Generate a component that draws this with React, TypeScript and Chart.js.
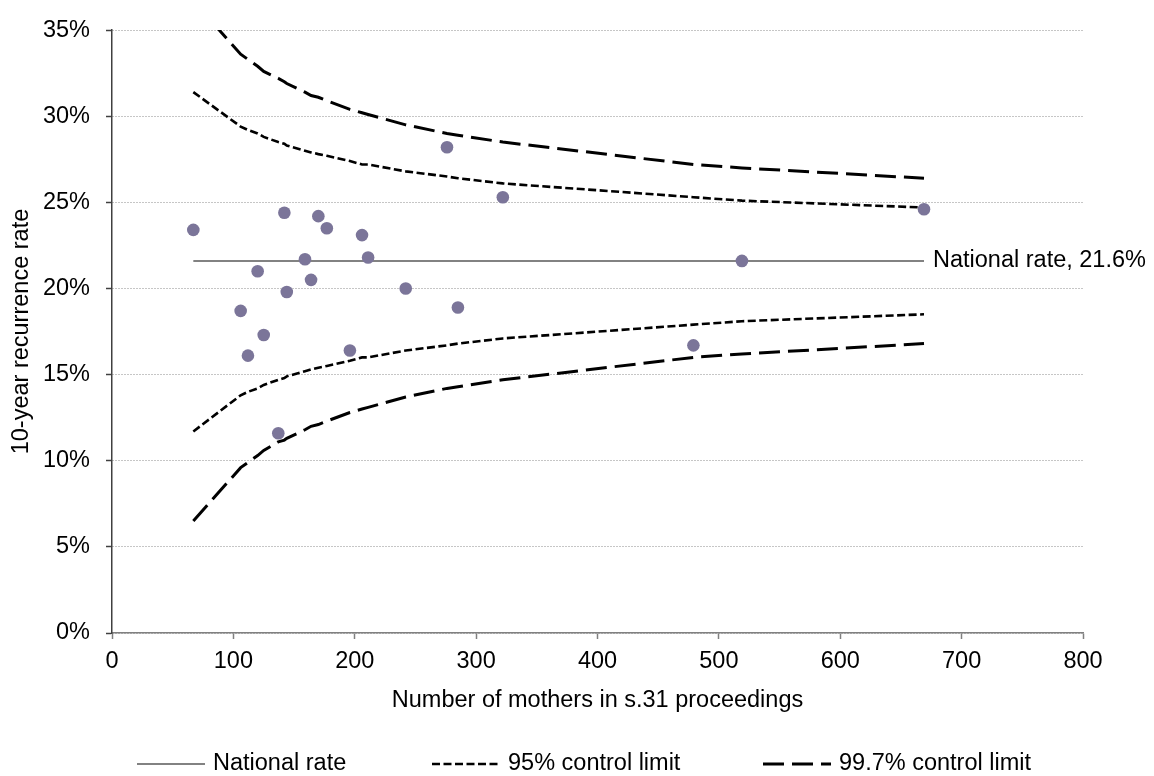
import { useEffect, useRef } from "react";
import { Chart, registerables } from "chart.js";

Chart.register(...registerables);

const FONT_FAMILY = "'Liberation Sans', Arial, Helvetica, sans-serif";
const FONT_SIZE = 23.5;
const TEXT_COLOR = "#000000";

// Authorities: number of mothers in s.31 proceedings and their 10-year recurrence rate (%)
const mothersCount = [67, 106, 112, 120, 125, 137, 142, 144, 159, 164, 170, 177, 196, 206, 211, 242, 276, 285, 322, 479, 519, 669];
const recurrenceRate = [23.4, 18.7, 16.1, 21.0, 17.3, 11.6, 24.4, 19.8, 21.7, 20.5, 24.2, 23.5, 16.4, 23.1, 21.8, 20.0, 28.2, 18.9, 25.3, 16.7, 21.6, 24.6];

// Funnel control limits, read at each authority size
const limitSizes = [67, 106, 112, 120, 125, 137, 142, 144, 159, 164, 170, 177, 196, 206, 211, 242, 276, 285, 322, 479, 519, 669];
const upper95 = [31.4, 29.4, 29.2, 29.0, 28.8, 28.5, 28.4, 28.3, 28.0, 27.9, 27.8, 27.7, 27.4, 27.2, 27.2, 26.8, 26.5, 26.4, 26.1, 25.3, 25.1, 24.7];
const lower95 = [11.7, 13.8, 14.0, 14.2, 14.4, 14.7, 14.8, 14.9, 15.2, 15.3, 15.4, 15.5, 15.8, 16.0, 16.0, 16.4, 16.7, 16.8, 17.1, 17.9, 18.1, 18.5];
const upper997 = [36.7, 33.6, 33.3, 32.9, 32.6, 32.2, 32.0, 31.9, 31.4, 31.2, 31.1, 30.9, 30.4, 30.2, 30.1, 29.5, 29.0, 28.9, 28.5, 27.2, 27.0, 26.4];
const lower997 = [6.5, 9.6, 9.9, 10.3, 10.6, 11.1, 11.2, 11.3, 11.8, 12.0, 12.1, 12.3, 12.8, 13.0, 13.1, 13.7, 14.2, 14.3, 14.7, 16.0, 16.2, 16.8];

const nationalRate = 21.6;
const nationalRange = [67, 669];

const xTitle = "Number of mothers in s.31 proceedings";
const yTitle = "10-year recurrence rate";
const nationalLabel = `National rate, ${nationalRate}%`;

const NATIONAL_STYLE = { color: "#595959", width: 1.5, dash: [] as number[] };
const LIMIT95_STYLE = { color: "#000000", width: 2.6, dash: [8, 3.5] };
const LIMIT997_STYLE = { color: "#000000", width: 3, dash: [21, 8] };
const POINT_COLOR = "#7b7599";

const legendEntries = [
  { label: "National rate", style: NATIONAL_STYLE, x: 137 },
  { label: "95% control limit", style: LIMIT95_STYLE, x: 432 },
  { label: "99.7% control limit", style: LIMIT997_STYLE, x: 763 },
];

const toPoints = (xs: number[], ys: number[]) => xs.map((x, i) => ({ x, y: ys[i] }));

const font = `${FONT_SIZE}px ${FONT_FAMILY}`;

// Draws the axis titles, the national-rate label and the line key under the chart
const chartText = {
  id: "chartText",
  afterDraw(chart: any) {
    const { ctx, chartArea, scales } = chart;
    ctx.save();
    ctx.font = font;
    ctx.fillStyle = TEXT_COLOR;
    ctx.textBaseline = "middle";

    // national rate label at the end of its line
    ctx.textAlign = "left";
    ctx.fillText(
      nationalLabel,
      scales.x.getPixelForValue(nationalRange[1]) + 9,
      scales.y.getPixelForValue(nationalRate)
    );

    // x-axis title
    ctx.textAlign = "center";
    ctx.fillText(xTitle, (chartArea.left + chartArea.right) / 2, 701);

    // y-axis title
    ctx.save();
    ctx.translate(22, (chartArea.top + chartArea.bottom) / 2);
    ctx.rotate(-Math.PI / 2);
    ctx.fillText(yTitle, 0, 0);
    ctx.restore();

    // key
    const sampleW = 68;
    const textGap = 8;
    const keyY = 764;
    legendEntries.forEach((e) => {
      ctx.save();
      ctx.strokeStyle = e.style.color;
      ctx.lineWidth = e.style.width;
      ctx.setLineDash(e.style.dash);
      ctx.beginPath();
      ctx.moveTo(e.x, keyY);
      ctx.lineTo(e.x + sampleW, keyY);
      ctx.stroke();
      ctx.restore();
      ctx.textAlign = "left";
      ctx.fillText(e.label, e.x + sampleW + textGap, keyY);
    });

    ctx.restore();
  },
};

export default function App() {
  const canvasRef = useRef<HTMLCanvasElement | null>(null);

  useEffect(() => {
    if (!canvasRef.current) return;
    const lineDataset = (label: string, data: { x: number; y: number }[], style: typeof NATIONAL_STYLE) => ({
      label,
      data,
      showLine: true,
      fill: false,
      tension: 0,
      pointRadius: 0,
      pointHoverRadius: 0,
      borderColor: style.color,
      borderWidth: style.width,
      borderDash: style.dash,
      clip: 0,
      order: 1,
    });

    const chart = new Chart(canvasRef.current, {
      type: "scatter",
      data: {
        datasets: [
          {
            label: "Authorities",
            data: toPoints(mothersCount, recurrenceRate),
            pointRadius: 6.3,
            pointHoverRadius: 6.3,
            pointBackgroundColor: POINT_COLOR,
            pointBorderWidth: 0,
            backgroundColor: POINT_COLOR,
            borderWidth: 0,
            order: 0,
          },
          lineDataset("National rate", toPoints(nationalRange, [nationalRate, nationalRate]), NATIONAL_STYLE),
          lineDataset("95% upper", toPoints(limitSizes, upper95), LIMIT95_STYLE),
          lineDataset("95% lower", toPoints(limitSizes, lower95), LIMIT95_STYLE),
          lineDataset("99.7% upper", toPoints(limitSizes, upper997), LIMIT997_STYLE),
          lineDataset("99.7% lower", toPoints(limitSizes, lower997), LIMIT997_STYLE),
        ] as any,
      },
      options: {
        responsive: false,
        animation: false,
        devicePixelRatio: 1,
        layout: { padding: { top: 23, right: 71, bottom: 0, left: 0 } },
        plugins: {
          legend: { display: false },
          tooltip: { enabled: false },
        },
        scales: {
          x: {
            type: "linear",
            min: 0,
            max: 800,
            afterFit: (s: any) => {
              s.height = 143;
            },
            ticks: {
              stepSize: 100,
              color: TEXT_COLOR,
              font: { family: FONT_FAMILY, size: FONT_SIZE },
              padding: 8,
              maxRotation: 0,
            },
            grid: {
              drawOnChartArea: false,
              drawTicks: true,
              tickLength: 6,
              tickColor: "#808080",
              tickWidth: 1.5,
            },
            border: { display: true, color: "#808080", width: 1.5 },
          },
          y: {
            type: "linear",
            min: 0,
            max: 35,
            afterFit: (s: any) => {
              s.width = 112;
            },
            ticks: {
              stepSize: 5,
              color: TEXT_COLOR,
              font: { family: FONT_FAMILY, size: FONT_SIZE },
              padding: 16,
              callback: (v: any) => `${v}%`,
            },
            grid: {
              color: "#8c8c8c",
              lineWidth: 1,
              drawTicks: true,
              tickLength: 6,
              tickColor: "#404040",
              tickWidth: 1.5,
            },
            border: { display: true, color: "#404040", width: 1.5, dash: [1, 2] },
          },
        },
      },
      plugins: [chartText],
    });
    return () => chart.destroy();
  }, []);

  return (
    <div style={{ position: "absolute", left: 0, top: 0, width: 1154, height: 776, background: "#ffffff" }}>
      <canvas ref={canvasRef} width={1154} height={776} />
    </div>
  );
}
